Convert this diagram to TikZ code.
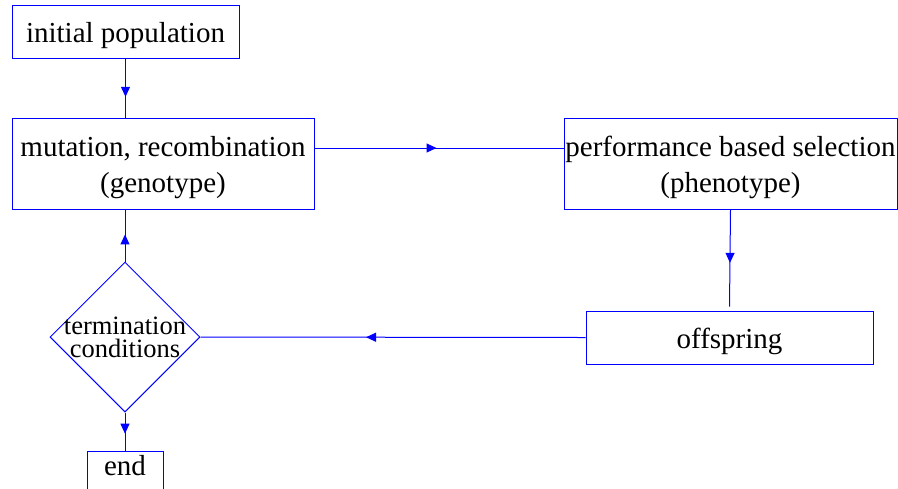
\documentclass[tikz,border=0pt]{standalone}
\usepackage{fontspec}
\setmainfont{Liberation Serif}
\usetikzlibrary{arrows.meta, decorations.markings, shapes.geometric}

\begin{document}
\begin{tikzpicture}[x=0.5pt, y=-0.5pt,
  box/.style={draw=blue, line width=0.5pt, align=center, inner sep=0pt,
    font=\fontsize{14.5}{18}\selectfont, text height=14.1pt, text depth=3.1pt},
  twoline/.style={text height=32.1pt},
  flow/.style={draw=blue, line width=0.5pt, postaction={decorate},
    decoration={markings, mark=at position #1 with {\arrow{Triangle[length=5pt, width=4.5pt]}}}},
  flow/.default=0.55]
\useasboundingbox (0,0) rectangle (898,488);

\node[box, minimum width=113.5pt, minimum height=26.5pt] (init) at (125.5,31.5) {initial population};
\node[box, twoline, minimum width=151pt, minimum height=45.5pt] (mut) at (163,163.5) {mutation, recombination\\(genotype)};
\node[box, twoline, minimum width=166.5pt, minimum height=45.5pt] (perf) at (730.5,163.5) {performance based selection\\(phenotype)};
\node[box, minimum width=143.5pt, minimum height=26.5pt] (off) at (729.5,337.5) {offspring};
\node[draw=blue, line width=0.5pt, diamond, minimum width=75pt, minimum height=75pt, inner sep=0pt] (cond) at (125,337) {};
\node[font=\fontsize{13.25}{11.5}\selectfont, align=center, inner sep=0pt] (condtext) at (cond) {termination\\conditions};
\node[box, anchor=north, minimum width=38pt, inner ysep=3pt, text height=9pt, text depth=6pt] (end) at (125,451) {end};

\draw[flow=0.65] (init.south) -- (init.south |- mut.north);
\draw[flow=0.49] ([yshift=7.75pt]mut.east) -- ([yshift=7.75pt]perf.west);
\draw[flow] (perf.south) -- ([yshift=2pt]off.north);
\draw[flow=0.57] (off.west) -- (cond.east);
\draw[flow=0.52] (cond.north) -- (cond.north |- mut.south);
\draw[flow] (cond.south) -- (end.north);
\end{tikzpicture}
\end{document}
